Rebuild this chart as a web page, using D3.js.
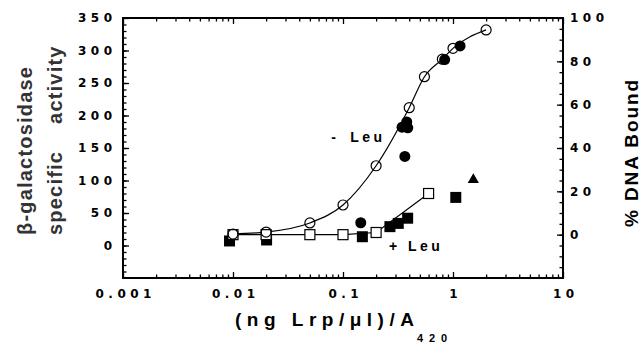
<!DOCTYPE html>
<html lang="en">
<head>
<meta charset="UTF-8">
<title>Lrp titration</title>
<script src="https://cdn.jsdelivr.net/npm/d3@7"></script>
<style>
    body { margin: 0; background: white; }
    .axis path.domain { display: none; }
    .axis line { stroke: black; stroke-width: 1.3px; }
    .axis text {
        font-family: "DejaVu Sans", sans-serif;
        font-weight: bold;
        font-size: 12px;
        letter-spacing: 4.5px;
        fill: black;
    }
    .title { font-family: "Liberation Sans", Arial, sans-serif; font-weight: bold; white-space: pre; }
</style>
</head>
<body>
<script>
    /*------------------------ data ------------------------*/
    // x values are (ng Lrp/ul)/A420
    // open circles (- Leu, % DNA bound, right axis)
    const openCircleX = [0.01, 0.02, 0.05, 0.1, 0.2, 0.4, 0.55, 0.8, 1.0, 2.0];
    const openCircleY = [0.3, 1.2, 5.4, 13.7, 31.8, 58.6, 72.9, 81, 86, 94.5];
    // open squares (+ Leu, % DNA bound, right axis)
    const openSquareX = [0.01, 0.02, 0.05, 0.1, 0.2, 0.6];
    const openSquareY = [0, 0, 0, 0, 1, 19];
    // filled circles (- Leu, beta-gal activity, left axis)
    const filledCircleX = [0.145, 0.344, 0.38, 0.388, 0.365, 0.84, 1.16];
    const filledCircleY = [35, 182, 190, 181, 137, 286, 307];
    // filled squares (+ Leu, beta-gal activity, left axis)
    const filledSquareX = [0.0093, 0.0202, 0.15, 0.267, 0.318, 0.387, 1.06];
    const filledSquareY = [7, 8.5, 13.5, 29, 34, 42, 74];
    // filled triangle
    const triangleX = [1.53];
    const triangleY = [101];

    // ticks
    const xMajor = [0.001, 0.01, 0.1, 1, 10];
    const xMinor = [0.001, 0.01, 0.1, 1].flatMap(d => d3.range(2, 10).map(k => d * k));
    const leftTicks = [0, 50, 100, 150, 200, 250, 300, 350];
    const leftMinor = d3.range(-40, 350, 10);
    const rightTicks = [0, 20, 40, 60, 80, 100];
    const rightMinor = d3.range(-15, 100, 5);

    // in-plot labels, placed in data units (left axis)
    const notes = [
        {sign: "-", word: "Leu", x: 0.078, y: 160},
        {sign: "+", word: "Leu", x: 0.262, y: -9}
    ];

    /*------------------------ layout ----------------------*/
    const width = 643, height = 343;
    const margin = {top: 18, left: 123};
    const w = 440, h = 260;

    const x = d3.scaleLog().domain([0.001, 10]).range([0, w]);
    const yL = d3.scaleLinear().domain([-50, 350]).range([h, 0]);
    const yR = d3.scaleLinear().domain([-20, 100]).range([h, 0]);

    const svg = d3.select("body").append("svg")
        .attr("width", width)
        .attr("height", height);

    const g = svg.append("g")
        .attr("transform", `translate(${margin.left},${margin.top})`);

    /*------------------------ axes ------------------------*/
    // minor ticks first
    g.append("g").attr("class", "axis")
        .call(d3.axisLeft(yL).tickValues(leftMinor).tickSize(-3.5).tickFormat(""));
    g.append("g").attr("class", "axis")
        .attr("transform", `translate(${w},0)`)
        .call(d3.axisRight(yR).tickValues(rightMinor).tickSize(-3.5).tickFormat(""));
    g.append("g").attr("class", "axis")
        .attr("transform", `translate(0,${h})`)
        .call(d3.axisBottom(x).tickValues(xMinor).tickSize(-3.5).tickFormat(""));
    g.append("g").attr("class", "axis")
        .call(d3.axisTop(x).tickValues(xMinor).tickSize(-3.5).tickFormat(""));

    // major ticks with labels
    g.append("g").attr("class", "axis")
        .call(d3.axisLeft(yL).tickValues(leftTicks).tickSize(-6).tickPadding(6.5).tickFormat(d3.format("d")));
    g.append("g").attr("class", "axis")
        .attr("transform", `translate(${w},0)`)
        .call(d3.axisRight(yR).tickValues(rightTicks).tickSize(-6).tickPadding(7).tickFormat(d3.format("d")));
    g.append("g").attr("class", "axis")
        .attr("transform", `translate(0,${h})`)
        .call(d3.axisBottom(x).tickValues(xMajor).tickSize(-6).tickPadding(11.5).tickFormat(d => String(d)))
        .selectAll("text").attr("dx", 2.25);
    g.append("g").attr("class", "axis")
        .call(d3.axisTop(x).tickValues(xMajor).tickSize(-6).tickFormat(""));

    // frame
    g.append("rect")
        .attr("width", w).attr("height", h)
        .attr("fill", "none").attr("stroke", "black").attr("stroke-width", 2);

    /*------------------------ marks -----------------------*/
    const zip = (xs, ys) => xs.map((d, i) => [d, ys[i]]);

    // filled squares
    g.selectAll(".fsq").data(zip(filledSquareX, filledSquareY)).enter().append("rect")
        .attr("x", d => x(d[0]) - 5.5).attr("y", d => yL(d[1]) - 5.5)
        .attr("width", 11).attr("height", 11).attr("fill", "black");

    // lines
    const curveLine = d3.line().x(d => x(d[0])).y(d => yR(d[1])).curve(d3.curveMonotoneX);
    const segLine = d3.line().x(d => x(d[0])).y(d => yR(d[1]));

    g.append("path").datum(zip(openCircleX, openCircleY))
        .attr("d", curveLine).attr("fill", "none").attr("stroke", "black").attr("stroke-width", 1.2);
    g.append("path").datum(zip(openSquareX, openSquareY))
        .attr("d", segLine).attr("fill", "none").attr("stroke", "black").attr("stroke-width", 1.2);

    // filled circles
    g.selectAll(".fci").data(zip(filledCircleX, filledCircleY)).enter().append("circle")
        .attr("cx", d => x(d[0])).attr("cy", d => yL(d[1])).attr("r", 5.5).attr("fill", "black");

    // triangle
    g.selectAll(".tri").data(zip(triangleX, triangleY)).enter().append("path")
        .attr("transform", d => `translate(${x(d[0])},${yL(d[1])})`)
        .attr("d", d3.symbol().type(d3.symbolTriangle).size(55)).attr("fill", "black");

    // open squares
    g.selectAll(".osq").data(zip(openSquareX, openSquareY)).enter().append("rect")
        .attr("x", d => x(d[0]) - 5).attr("y", d => yR(d[1]) - 5)
        .attr("width", 10).attr("height", 10)
        .attr("fill", "white").attr("stroke", "black").attr("stroke-width", 1.2);

    // open circles
    g.selectAll(".oci").data(zip(openCircleX, openCircleY)).enter().append("circle")
        .attr("cx", d => x(d[0])).attr("cy", d => yR(d[1])).attr("r", 5)
        .attr("fill", "none").attr("stroke", "black").attr("stroke-width", 1.2);

    // - Leu / + Leu
    notes.forEach(n => {
        g.append("text").attr("class", "title")
            .attr("x", x(n.x)).attr("y", yL(n.y))
            .attr("font-size", 14).text(n.sign);
        g.append("text").attr("class", "title")
            .attr("x", x(n.x) + 19).attr("y", yL(n.y))
            .attr("font-size", 14).attr("letter-spacing", 3.5).text(n.word);
    });

    /*------------------------ titles ----------------------*/
    svg.append("text").attr("class", "title")
        .attr("transform", "translate(32,235) rotate(-90)")
        .attr("font-size", 20).attr("letter-spacing", 1.2).attr("fill", "#333")
        .text("β-galactosidase");
    svg.append("text").attr("class", "title")
        .attr("transform", "translate(62,235) rotate(-90)")
        .attr("font-size", 20).attr("letter-spacing", 1.2).attr("fill", "#333")
        .text("specific    activity");

    svg.append("text").attr("class", "title")
        .attr("transform", "translate(638,227) rotate(-90)")
        .attr("font-size", 19).attr("textLength", 147).attr("lengthAdjust", "spacing")
        .text("% DNA Bound");

    svg.append("text").attr("class", "title")
        .attr("x", 235).attr("y", 326)
        .attr("font-size", 19).attr("letter-spacing", 5.5)
        .text("(ng Lrp/μl)/A");
    svg.append("text").attr("class", "title")
        .attr("x", 417).attr("y", 342)
        .attr("font-size", 11).attr("textLength", 30).attr("lengthAdjust", "spacing")
        .text("420");
</script>
</body>
</html>
